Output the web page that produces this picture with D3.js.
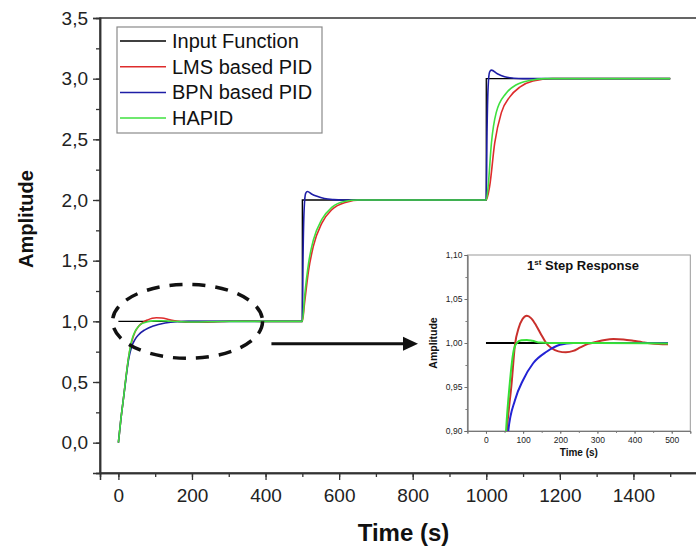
<!DOCTYPE html>
<html>
<head>
<meta charset="utf-8">
<script src="https://cdn.jsdelivr.net/npm/d3@7"></script>
<style>
  body { margin: 0; background: #fff; }
  svg { display: block; font-family: "Liberation Sans", Arial, sans-serif; }
</style>
</head>
<body>
<div id="container"></div>
<script>
const width = 696,
  height = 551;

/* DATA */
// main chart, [time (s), amplitude]
const inputFunction = [[0, 1], [500, 1], [500, 2], [1000, 2], [1000, 3], [1500, 3]];
const lmsPid = [[0, 0], [7, 0.2], [14, 0.37], [21, 0.55], [28, 0.71], [36, 0.83], [45, 0.91], [55, 0.96], [66, 0.99],
  [80, 1.012], [92, 1.025], [103, 1.03], [118, 1.027], [140, 1.013], [165, 0.999], [200, 0.992], [240, 0.993],
  [290, 0.999], [340, 1.003], [400, 1.0], [500, 1.0],
  [506, 1.15], [517, 1.42], [530, 1.62], [553, 1.81], [580, 1.92], [617, 1.98], [660, 2.0], [1000, 2.0],
  [1009, 2.11], [1023, 2.47], [1041, 2.72], [1064, 2.85], [1091, 2.93], [1127, 2.98], [1180, 3.0], [1500, 3.0]];
const bpnPid = [[0, 0], [7, 0.2], [14, 0.37], [21, 0.54], [28, 0.69], [36, 0.79], [45, 0.85], [55, 0.89], [72, 0.93],
  [95, 0.962], [127, 0.986], [160, 0.997], [190, 1.0], [500, 1.0],
  [502, 1.55], [505, 1.93], [509, 2.055], [514, 2.07], [525, 2.05], [540, 2.03], [560, 2.012], [585, 2.003], [610, 2.0], [1000, 2.0],
  [1002, 2.55], [1005, 2.93], [1009, 3.055], [1014, 3.07], [1030, 3.04], [1050, 3.015], [1075, 3.004], [1100, 3.0], [1500, 3.0]];
const hapid = [[0, 0], [7, 0.2], [14, 0.37], [21, 0.55], [28, 0.71], [36, 0.84], [45, 0.915], [55, 0.96], [65, 0.983],
  [80, 0.997], [95, 1.004], [115, 1.005], [140, 1.001], [170, 0.997], [210, 0.995], [260, 0.997], [320, 1.0], [500, 1.0],
  [506, 1.2], [517, 1.48], [530, 1.67], [553, 1.84], [580, 1.94], [617, 1.99], [650, 2.0], [1000, 2.0],
  [1005, 2.11], [1014, 2.47], [1027, 2.72], [1054, 2.88], [1082, 2.95], [1118, 2.985], [1160, 3.0], [1500, 3.0]];

// inset: 1st step response
const insetInput = [[0, 1], [490, 1]];
const insetLms = [[47, 0.84], [56, 0.9], [69, 0.954], [78, 0.998], [88, 1.017], [98, 1.027], [110, 1.031], [122, 1.028],
  [135, 1.02], [148, 1.01], [162, 1.0], [177, 0.994], [195, 0.9905], [215, 0.9895], [235, 0.991], [254, 0.995], [275, 0.999],
  [298, 1.0015], [320, 1.0035], [343, 1.0045], [370, 1.004], [396, 1.0026], [420, 1.001], [441, 0.9997],
  [465, 0.9988], [490, 0.9985]];
const insetBpn = [[54, 0.85], [60, 0.9], [78, 0.935], [100, 0.958], [127, 0.977], [163, 0.99], [199, 0.998],
  [235, 1.0], [490, 1.0]];
const insetHapid = [[47, 0.84], [54, 0.9], [64, 0.954], [73, 0.988], [82, 0.9995], [95, 1.003], [110, 1.0035],
  [125, 1.0025], [145, 1.0005], [170, 1.0], [300, 1.0], [490, 0.9995]];

const seriesNames = ["Input Function", "LMS based PID", "BPN based PID", "HAPID"];

const xTicks = [0, 200, 400, 600, 800, 1000, 1200, 1400];
const xMinor = d3.range(-100, 1700, 100);
const yTicks = [0, 0.5, 1, 1.5, 2, 2.5, 3, 3.5];
const yMinor = d3.range(-0.25, 3.6, 0.25);
const insetXTicks = [0, 100, 200, 300, 400, 500];
const insetXMinor = d3.range(-50, 560, 50);
const insetYTicks = [0.9, 0.95, 1.0, 1.05, 1.1];
const insetYMinor = d3.range(0.9, 1.11, 0.025);

const colors = ["#000000", "#de2c2c", "#1e1ea6", "#3fe03f"];
const insetColors = ["#000000", "#c9302c", "#2323d4", "#36e036"];

const locale = d3.formatLocale({decimal: ",", thousands: ".", grouping: [3], currency: ["", ""]});

const svg = d3.select("#container").append("svg")
  .attr("width", width)
  .attr("height", height)

/* SCALES */
const x = d3.scaleLinear().domain([-50, 1600]).range([100, 707])
const y = d3.scaleLinear().domain([-0.25, 3.5]).range([473, 18])

// frame (top edge, right edge falls outside the picture)
svg.append("rect")
  .attr("x", x(-50)).attr("y", y(3.5))
  .attr("width", x(1600) - x(-50)).attr("height", y(-0.25) - y(3.5))
  .attr("fill", "none").attr("stroke", "#333").attr("stroke-width", 1.5)

function styleAxis(g, size) {
  g.select(".domain").attr("stroke", "#333").attr("stroke-width", 1.5)
  g.selectAll(".tick line").attr("stroke", "#333").attr("stroke-width", 1.3)
  g.selectAll("text").attr("fill", "#222").attr("font-size", size)
    .attr("font-family", "'Liberation Sans', Arial, sans-serif")
  g.attr("font-size", null).attr("font-family", null)
}

// minor ticks
svg.append("g")
  .attr("transform", `translate(0,${y(-0.25)})`)
  .call(d3.axisBottom(x).tickValues(xMinor.filter(d => d > -50 && d < 1600)).tickSize(4).tickFormat(""))
  .call(g => styleAxis(g, 19))
svg.append("g")
  .attr("transform", `translate(${x(-50)},0)`)
  .call(d3.axisLeft(y).tickValues(yMinor.filter(d => d > -0.26 && d < 3.49)).tickSize(4).tickFormat(""))
  .call(g => styleAxis(g, 19))

// major ticks
svg.append("g")
  .attr("transform", `translate(0,${y(-0.25)})`)
  .call(d3.axisBottom(x).tickValues(xTicks).tickSize(7).tickPadding(9).tickFormat(d3.format("d")))
  .call(g => styleAxis(g, 19))
svg.append("g")
  .attr("transform", `translate(${x(-50)},0)`)
  .call(d3.axisLeft(y).tickValues(yTicks).tickSize(7).tickPadding(5).tickFormat(locale.format(".1f")))
  .call(g => styleAxis(g, 19))

svg.append("text")
  .attr("x", (x(-50) + x(1600)) / 2)
  .attr("y", 541)
  .attr("text-anchor", "middle")
  .attr("font-weight", "bold")
  .attr("font-size", 24)
  .attr("fill", "#111")
  .text("Time (s)")

svg.append("text")
  .attr("transform", "translate(33,219) rotate(-90)")
  .attr("text-anchor", "middle")
  .attr("font-weight", "bold")
  .attr("font-size", 20)
  .attr("fill", "#111")
  .text("Amplitude")

/* LINES */
const line = d3.line().x(d => x(d[0])).y(d => y(d[1])).curve(d3.curveMonotoneX)
const stepLine = d3.line().x(d => x(d[0])).y(d => y(d[1]))

svg.append("path").datum(inputFunction)
  .attr("d", stepLine).attr("fill", "none").attr("stroke", colors[0]).attr("stroke-width", 1.3)

const mainSeries = [lmsPid, bpnPid, hapid]
mainSeries.forEach((s, i) => {
  svg.append("path").datum(s)
    .attr("d", line)
    .attr("fill", "none")
    .attr("stroke", colors[i + 1])
    .attr("stroke-width", 1.6)
    .attr("stroke-linejoin", "round")
})

/* LEGEND */
const legend = svg.append("g")
legend.append("rect")
  .attr("x", 117).attr("y", 27).attr("width", 205).attr("height", 106)
  .attr("fill", "#fff").attr("stroke", "#8a8a8a").attr("stroke-width", 1.2)

seriesNames.forEach((name, i) => {
  const yy = 41 + i * 25.7
  legend.append("line")
    .attr("x1", 120).attr("x2", 166).attr("y1", yy).attr("y2", yy)
    .attr("stroke", colors[i]).attr("stroke-width", 1.5)
  legend.append("text")
    .attr("x", 172).attr("y", yy + 7)
    .attr("font-size", 20).attr("fill", "#111")
    .text(name)
})

/* ANNOTATION: dashed ellipse + arrow */
svg.append("ellipse")
  .attr("cx", x(188)).attr("cy", y(1.0))
  .attr("rx", 75).attr("ry", 37)
  .attr("fill", "none").attr("stroke", "#111")
  .attr("stroke-width", 3.5).attr("stroke-dasharray", "13,10")

const arrowY = y(0.815)
svg.append("line")
  .attr("x1", x(416)).attr("x2", 405).attr("y1", arrowY).attr("y2", arrowY)
  .attr("stroke", "#111").attr("stroke-width", 3)
svg.append("path")
  .attr("d", `M403,${arrowY - 7}L418,${arrowY}L403,${arrowY + 7}Z`)
  .attr("fill", "#111")

/* INSET */
const ix = d3.scaleLinear().domain([-50, 550]).range([467.4, 690.3])
const iy = d3.scaleLinear().domain([0.9, 1.1]).range([431, 255])

const inset = svg.append("g")
inset.append("rect")
  .attr("x", ix(-50)).attr("y", iy(1.1))
  .attr("width", ix(550) - ix(-50)).attr("height", iy(0.9) - iy(1.1))
  .attr("fill", "#fff").attr("stroke", "#999").attr("stroke-width", 1)

function styleInset(g) {
  g.select(".domain").attr("stroke", "#777").attr("stroke-width", 1)
  g.selectAll(".tick line").attr("stroke", "#666").attr("stroke-width", 0.8)
  g.selectAll("text").attr("fill", "#222").attr("font-size", 8.5)
    .attr("font-family", "'Liberation Sans', Arial, sans-serif")
  g.attr("font-size", null).attr("font-family", null)
}

inset.append("g")
  .attr("transform", `translate(0,${iy(0.9)})`)
  .call(d3.axisBottom(ix).tickValues(insetXMinor.filter(d => d > -50 && d < 550)).tickSize(2).tickFormat(""))
  .call(styleInset)
inset.append("g")
  .attr("transform", `translate(${ix(-50)},0)`)
  .call(d3.axisLeft(iy).tickValues(insetYMinor.filter(d => d > 0.9 && d < 1.1)).tickSize(2).tickFormat(""))
  .call(styleInset)
inset.append("g")
  .attr("transform", `translate(0,${iy(0.9)})`)
  .call(d3.axisBottom(ix).tickValues(insetXTicks).tickSize(3).tickPadding(3).tickFormat(d3.format("d")))
  .call(styleInset)
inset.append("g")
  .attr("transform", `translate(${ix(-50)},0)`)
  .call(d3.axisLeft(iy).tickValues(insetYTicks).tickSize(3).tickPadding(2).tickFormat(locale.format(".2f")))
  .call(styleInset)

svg.append("defs").append("clipPath").attr("id", "insetClip")
  .append("rect")
  .attr("x", ix(-50)).attr("y", iy(1.1))
  .attr("width", ix(550) - ix(-50)).attr("height", iy(0.9) - iy(1.1))

const iline = d3.line().x(d => ix(d[0])).y(d => iy(d[1])).curve(d3.curveMonotoneX)
const insetLines = inset.append("g").attr("clip-path", "url(#insetClip)")
const insetSeries = [insetInput, insetLms, insetBpn, insetHapid]
insetSeries.forEach((s, i) => {
  insetLines.append("path").datum(s)
    .attr("d", iline)
    .attr("fill", "none")
    .attr("stroke", insetColors[i])
    .attr("stroke-width", 2)
})

inset.append("text")
  .attr("x", 583).attr("y", 270)
  .attr("text-anchor", "middle")
  .attr("font-weight", "bold").attr("font-size", 13).attr("fill", "#111")
  .call(t => {
    t.append("tspan").text("1")
    t.append("tspan").attr("dy", -5).attr("font-size", 8).text("st")
    t.append("tspan").attr("dy", 5).text(" Step Response")
  })

inset.append("text")
  .attr("x", (ix(-50) + ix(550)) / 2).attr("y", 456)
  .attr("text-anchor", "middle")
  .attr("font-weight", "bold").attr("font-size", 10).attr("fill", "#111")
  .text("Time (s)")

inset.append("text")
  .attr("transform", `translate(437,${(iy(0.9) + iy(1.1)) / 2}) rotate(-90)`)
  .attr("text-anchor", "middle")
  .attr("font-weight", "bold").attr("font-size", 10.5).attr("fill", "#111")
  .text("Amplitude")
</script>
</body>
</html>
